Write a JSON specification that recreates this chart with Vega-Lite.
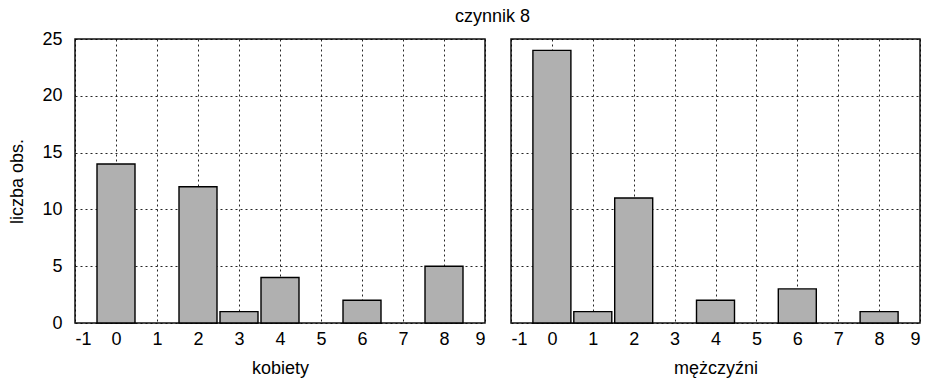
{
  "$schema": "https://vega.github.io/schema/vega-lite/v6.json",
  "padding": {"left": 8, "top": 8, "right": 0, "bottom": 0},
  "title": {"text": "czynnik 8", "anchor": "middle", "fontSize": 18, "font": "Liberation Sans", "fontWeight": "normal", "color": "#000", "dx": 28, "offset": 3},
  "config": {
    "font": "Liberation Sans",
    "view": {"stroke": "#111", "strokeWidth": 1.5},
    "axis": {
      "domain": false,
      "ticks": false,
      "labelFontSize": 18,
      "titleFontSize": 18,
      "titleFontWeight": "normal",
      "labelColor": "#000",
      "titleColor": "#000",
      "gridColor": "#000",
      "gridDash": [2, 3],
      "gridWidth": 1,
      "gridOpacity": 0.85
    },
    "axisX": {"labelPadding": 7, "titlePadding": 11},
    "axisY": {"labelPadding": 13, "titlePadding": 15}
  },
  "data": {
    "values": [
      {"plec": "kobiety", "wartosc": 0, "liczba": 14},
      {"plec": "kobiety", "wartosc": 2, "liczba": 12},
      {"plec": "kobiety", "wartosc": 3, "liczba": 1},
      {"plec": "kobiety", "wartosc": 4, "liczba": 4},
      {"plec": "kobiety", "wartosc": 6, "liczba": 2},
      {"plec": "kobiety", "wartosc": 8, "liczba": 5},
      {"plec": "mężczyźni", "wartosc": 0, "liczba": 24},
      {"plec": "mężczyźni", "wartosc": 1, "liczba": 1},
      {"plec": "mężczyźni", "wartosc": 2, "liczba": 11},
      {"plec": "mężczyźni", "wartosc": 4, "liczba": 2},
      {"plec": "mężczyźni", "wartosc": 6, "liczba": 3},
      {"plec": "mężczyźni", "wartosc": 8, "liczba": 1}
    ]
  },
  "spacing": 26,
  "bounds": "flush",
  "hconcat": [
    {
      "width": 410,
      "height": 284,
      "transform": [{"filter": "datum.plec === 'kobiety'"}],
      "mark": {"type": "bar", "width": 38, "fill": "#b0b0b0", "stroke": "#000", "strokeWidth": 1.4},
      "encoding": {
        "x": {"field": "wartosc", "type": "quantitative", "scale": {"domain": [-1, 9], "nice": false, "zero": false, "padding": 0}, "axis": {"title": "kobiety", "values": [-1, 0, 1, 2, 3, 4, 5, 6, 7, 8, 9], "labelExpr": "'' + datum.value"}},
        "y": {"field": "liczba", "type": "quantitative", "scale": {"domain": [0, 25], "nice": false}, "axis": {"title": "liczba obs.", "values": [0, 5, 10, 15, 20, 25]}}
      }
    },
    {
      "width": 409,
      "height": 284,
      "transform": [{"filter": "datum.plec === 'mężczyźni'"}],
      "mark": {"type": "bar", "width": 38, "fill": "#b0b0b0", "stroke": "#000", "strokeWidth": 1.4},
      "encoding": {
        "x": {"field": "wartosc", "type": "quantitative", "scale": {"domain": [-1, 9], "nice": false, "zero": false, "padding": 0}, "axis": {"title": "mężczyźni", "values": [-1, 0, 1, 2, 3, 4, 5, 6, 7, 8, 9], "labelExpr": "'' + datum.value"}},
        "y": {"field": "liczba", "type": "quantitative", "scale": {"domain": [0, 25], "nice": false}, "axis": {"title": null, "labels": false, "values": [0, 5, 10, 15, 20, 25]}}
      }
    }
  ]
}
